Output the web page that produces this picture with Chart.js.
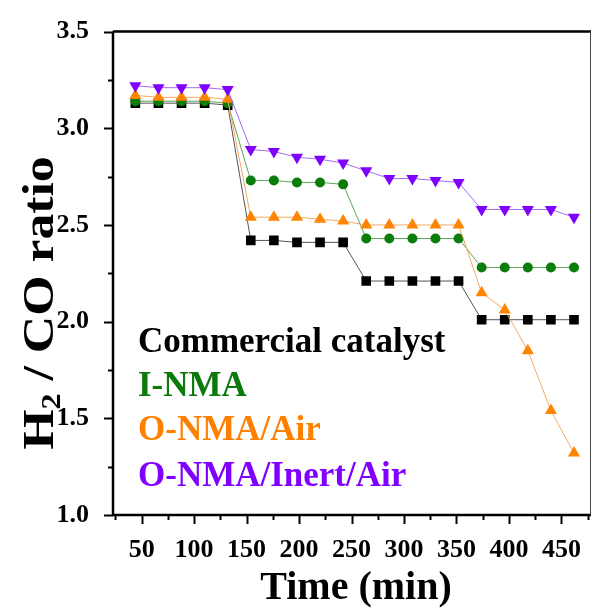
<!DOCTYPE html>
<html>
<head>
<meta charset="utf-8">
<script src="https://cdn.jsdelivr.net/npm/chart.js@4.4.0/dist/chart.umd.min.js"></script>
<style>
  html, body { margin: 0; padding: 0; background: #fff; }
  #wrap { width: 598px; height: 610px; }
</style>
</head>
<body>
<div id="wrap"><canvas id="ratioChart" width="598" height="610"></canvas></div>
<script>
// sampling times (min)
const times = [44, 66, 88, 110, 132, 154, 176, 198, 220, 242, 264, 286, 308, 330, 352, 374, 396, 418, 440, 462];

// H2/CO ratio per catalyst
const commercial = [3.13, 3.13, 3.13, 3.13, 3.12, 2.42, 2.42, 2.41, 2.41, 2.41, 2.21, 2.21, 2.21, 2.21, 2.21, 2.01, 2.01, 2.01, 2.01, 2.01];
const iNma = [3.14, 3.14, 3.14, 3.14, 3.13, 2.73, 2.73, 2.72, 2.72, 2.71, 2.43, 2.43, 2.43, 2.43, 2.43, 2.28, 2.28, 2.28, 2.28, 2.28];
const oNmaAir = [3.17, 3.16, 3.16, 3.16, 3.15, 2.54, 2.54, 2.54, 2.53, 2.52, 2.50, 2.50, 2.50, 2.50, 2.50, 2.15, 2.06, 1.85, 1.54, 1.32];
const oNmaInertAir = [3.22, 3.21, 3.21, 3.21, 3.20, 2.89, 2.88, 2.85, 2.84, 2.82, 2.78, 2.74, 2.74, 2.73, 2.72, 2.58, 2.58, 2.58, 2.58, 2.54];

const seriesNames = ["Commercial catalyst", "I-NMA", "O-NMA/Air", "O-NMA/Inert/Air"];

// tick labels
const xTickValues = [50, 100, 150, 200, 250, 300, 350, 400, 450];
const yTickValues = [1.0, 1.5, 2.0, 2.5, 3.0, 3.5];

const serif = "'Liberation Serif', 'Times New Roman', serif";

function pts(ys) {
  return times.map((t, i) => ({ x: t, y: ys[i] }));
}

// axes frame, minor ticks, in-plot legend and axis titles
const decorations = {
  id: 'decorations',
  afterDraw(chart) {
    const { ctx, chartArea: a, scales: { x, y } } = chart;
    ctx.save();
    ctx.strokeStyle = '#000';

    // ticks
    ctx.lineWidth = 2;
    for (let v = 1.0; v <= 3.501; v += 0.25) {
      const py = Math.round(y.getPixelForValue(v)) + 0.5;
      const major = Math.abs(v * 2 - Math.round(v * 2)) < 1e-6;
      ctx.beginPath();
      ctx.moveTo(a.left, py);
      ctx.lineTo(a.left - (major ? 9 : 5), py);
      ctx.stroke();
    }
    for (let v = 25; v <= 478; v += 25) {
      const px = Math.round(x.getPixelForValue(v)) + 0.5;
      const major = v % 50 === 0;
      ctx.beginPath();
      ctx.moveTo(px, a.bottom);
      ctx.lineTo(px, a.bottom + (major ? 9 : 5));
      ctx.stroke();
    }

    // frame
    ctx.lineWidth = 2.5;
    ctx.beginPath();
    ctx.moveTo(a.left, a.top);
    ctx.lineTo(a.left, a.bottom);
    ctx.lineTo(a.right, a.bottom);
    ctx.moveTo(a.left, a.top);
    ctx.lineTo(a.right, a.top);
    ctx.stroke();
    ctx.lineWidth = 1;
    ctx.strokeStyle = '#444';
    ctx.beginPath();
    ctx.moveTo(a.right - 0.5, a.top);
    ctx.lineTo(a.right - 0.5, a.bottom);
    ctx.stroke();

    // legend text
    ctx.font = 'bold 35px ' + serif;
    ctx.textAlign = 'left';
    ctx.textBaseline = 'alphabetic';
    const legendY = [352, 396, 440, 486];
    chart.data.datasets.forEach((ds, i) => {
      ctx.fillStyle = ds.textColor;
      ctx.fillText(ds.label, 138, legendY[i]);
    });

    // x title
    ctx.fillStyle = '#000';
    ctx.font = 'bold 40px ' + serif;
    ctx.textAlign = 'center';
    ctx.fillText('Time (min)', 356, 599);

    // y title with subscript (slightly stretched along its length, like the original)
    ctx.translate(53, 303);
    ctx.rotate(-Math.PI / 2);
    ctx.scale(1.15, 1);
    const big = 'bold 45px ' + serif;
    const small = 'bold 28px ' + serif;
    ctx.font = big;
    const wH = ctx.measureText('H').width;
    const wRest = ctx.measureText(' / CO ratio').width;
    ctx.font = small;
    const w2 = ctx.measureText('2').width;
    let cx = -(wH + w2 + wRest) / 2;
    ctx.textAlign = 'left';
    ctx.font = big;
    ctx.fillText('H', cx, 0);
    cx += wH;
    ctx.font = small;
    ctx.fillText('2', cx, 7);
    cx += w2;
    ctx.font = big;
    ctx.fillText(' / CO ratio', cx, 0);
    ctx.restore();
  }
};

new Chart(document.getElementById('ratioChart'), {
  type: 'line',
  data: {
    datasets: [
      {
        label: seriesNames[0], data: pts(commercial), order: 3,
        borderColor: '#555', borderWidth: 1, textColor: '#000',
        pointStyle: 'rect', pointRadius: 6.8, pointBackgroundColor: '#000', pointBorderColor: '#000', pointBorderWidth: 0
      },
      {
        label: seriesNames[1], data: pts(iNma), order: 2,
        borderColor: '#5aa55a', borderWidth: 1, textColor: '#0a7a0a',
        pointStyle: 'circle', pointRadius: 5, pointBackgroundColor: '#0a7d0a', pointBorderColor: '#0a7d0a', pointBorderWidth: 0
      },
      {
        label: seriesNames[2], data: pts(oNmaAir), order: 1,
        borderColor: '#f7a860', borderWidth: 1, textColor: '#ff8000',
        pointStyle: 'triangle', pointRadius: 7, pointBackgroundColor: '#ff8400', pointBorderColor: '#ff8400', pointBorderWidth: 0
      },
      {
        label: seriesNames[3], data: pts(oNmaInertAir), order: 0,
        borderColor: '#a46cf5', borderWidth: 1, textColor: '#8000ff',
        pointStyle: 'triangle', pointRotation: 180, pointRadius: 7, pointBackgroundColor: '#8000ff', pointBorderColor: '#8000ff', pointBorderWidth: 0
      }
    ]
  },
  options: {
    responsive: false,
    animation: false,
    devicePixelRatio: 1,
    layout: { padding: { top: 30, right: 1, left: 0, bottom: 0 } },
    plugins: { legend: { display: false }, tooltip: { enabled: false } },
    scales: {
      x: {
        type: 'linear', min: 22.7, max: 478.2,
        grid: { display: false }, border: { display: false },
        afterBuildTicks: s => { s.ticks = xTickValues.map(v => ({ value: v })); },
        afterFit: s => { s.height = 95; },
        ticks: { padding: 12, color: '#000', font: { family: serif, weight: 'bold', size: 26 }, maxRotation: 0, autoSkip: false }
      },
      y: {
        type: 'linear', min: 1.0, max: 3.5,
        grid: { display: false }, border: { display: false },
        afterBuildTicks: s => { s.ticks = yTickValues.map(v => ({ value: v })); },
        afterFit: s => { s.width = 113; },
        ticks: { padding: 16, color: '#000', font: { family: serif, weight: 'bold', size: 26 }, callback: v => v.toFixed(1) }
      }
    }
  },
  plugins: [decorations]
});
</script>
</body>
</html>
